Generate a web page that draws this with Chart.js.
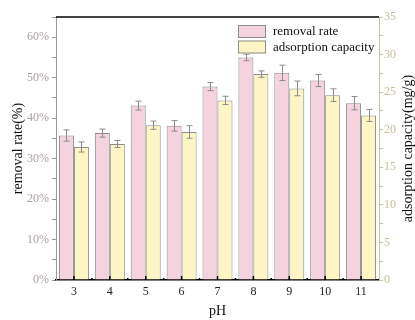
<!DOCTYPE html>
<html>
<head>
<meta charset="utf-8">
<script src="https://cdn.jsdelivr.net/npm/chart.js@4"></script>
<style>
  html, body { margin: 0; padding: 0; background: #fff; }
  #wrap { width: 415px; height: 320px; position: relative; }
</style>
</head>
<body>
<div id="wrap"><canvas id="chart"></canvas></div>
<script>
// ==============================
// Data
// ==============================

const pH = ["3", "4", "5", "6", "7", "8", "9", "10", "11"];

const removalRate = [35.7, 36.3, 43.1, 38.1, 47.8, 55.0, 51.2, 49.3, 43.7];
const removalErr = [1.4, 1.0, 1.1, 1.3, 1.0, 0.8, 1.9, 1.5, 1.65];

const adsorption = [17.7, 18.1, 20.6, 19.7, 23.9, 27.4, 25.5, 24.6, 21.9];
const adsorptionErr = [0.67, 0.47, 0.55, 0.84, 0.55, 0.42, 0.98, 0.84, 0.8];

const leftTicks = [0, 10, 20, 30, 40, 50, 60];
const rightTicks = [0, 5, 10, 15, 20, 25, 30, 35];

const serif = "'Liberation Serif', 'Times New Roman', serif";

// ==============================
// Error bars, legend, frame
// ==============================

const extrasPlugin = {
    id: "extras",
    afterDatasetsDraw(chart) {
        const ctx = chart.ctx;
        const area = chart.chartArea;

        // error bars
        chart.data.datasets.forEach((ds, i) => {
            const meta = chart.getDatasetMeta(i);
            const scale = chart.scales[ds.yAxisID];
            ctx.save();
            ctx.strokeStyle = "#8c8c8c";
            ctx.lineWidth = 1;
            meta.data.forEach((bar, j) => {
                const v = ds.data[j];
                const e = ds.errors[j];
                const yTop = scale.getPixelForValue(v + e);
                const yBot = scale.getPixelForValue(v - e);
                const x = Math.round(bar.x) + 0.5;
                ctx.beginPath();
                ctx.moveTo(x, yTop);
                ctx.lineTo(x, yBot);
                ctx.moveTo(x - 3, yTop);
                ctx.lineTo(x + 3, yTop);
                ctx.moveTo(x - 3, yBot);
                ctx.lineTo(x + 3, yBot);
                ctx.stroke();
            });
            ctx.restore();
        });

        // top frame line
        ctx.save();
        ctx.strokeStyle = "#000";
        ctx.lineWidth = 1.5;
        ctx.beginPath();
        ctx.moveTo(area.left, area.top);
        ctx.lineTo(area.right, area.top);
        ctx.stroke();

        // inward ticks on the x axis
        const xs = chart.scales.x;
        ctx.lineWidth = 1.5;
        pH.forEach((p, i) => {
            const x = xs.getPixelForValue(i);
            ctx.beginPath();
            ctx.moveTo(x, area.bottom);
            ctx.lineTo(x, area.bottom - 4);
            ctx.stroke();
            if (i < pH.length - 1) {
                const xm = xs.getPixelForValue(i + 0.5);
                ctx.beginPath();
                ctx.moveTo(xm, area.bottom);
                ctx.lineTo(xm, area.bottom - 2);
                ctx.stroke();
            }
        });
        ctx.restore();

        // legend
        ctx.save();
        ctx.font = "13px " + serif;
        ctx.textBaseline = "middle";
        chart.data.datasets.forEach((ds, i) => {
            const bx = 238;
            const by = 25 + i * 15.5;
            ctx.fillStyle = ds.backgroundColor;
            ctx.fillRect(bx, by, 28, 13);
            ctx.strokeStyle = "#8c8c8c";
            ctx.lineWidth = 1;
            ctx.strokeRect(bx + 0.5, by + 0.5, 27, 12);
            ctx.fillStyle = "#111";
            ctx.fillText(ds.label, bx + 35, by + 7);
        });
        ctx.restore();

        // right axis title, read bottom to top
        ctx.save();
        ctx.font = "14px " + serif;
        ctx.fillStyle = "#111";
        ctx.textAlign = "center";
        ctx.textBaseline = "middle";
        ctx.translate(408, (area.top + area.bottom) / 2);
        ctx.rotate(-Math.PI / 2);
        ctx.fillText("adsorption capacity(mg/g)", 0, 0);
        ctx.restore();
    }
};

// ==============================
// Chart
// ==============================

new Chart(document.getElementById("chart"), {
    type: "bar",
    data: {
        labels: pH,
        datasets: [
            {
                label: "removal rate",
                data: removalRate,
                errors: removalErr,
                yAxisID: "y",
                backgroundColor: "#f4d3df",
                borderColor: "#8c8c8c",
                borderWidth: 1
            },
            {
                label: "adsorption capacity",
                data: adsorption,
                errors: adsorptionErr,
                yAxisID: "y1",
                backgroundColor: "#fdf6c4",
                borderColor: "#8c8c8c",
                borderWidth: 1
            }
        ]
    },
    options: {
        responsive: true,
        maintainAspectRatio: false,
        animation: false,
        layout: { padding: { top: 17, left: 0, right: 0, bottom: 0 } },
        datasets: {
            bar: { categoryPercentage: 0.835, barPercentage: 1.0 }
        },
        plugins: {
            legend: { display: false },
            tooltip: { enabled: false }
        },
        scales: {
            x: {
                grid: { display: false, drawTicks: false },
                border: { color: "#000", width: 1.5 },
                ticks: {
                    color: "#222",
                    padding: 5,
                    font: { family: serif, size: 12 }
                },
                title: {
                    display: true,
                    text: "pH",
                    color: "#111",
                    padding: { top: 0, bottom: 0 },
                    font: { family: serif, size: 14 }
                },
                afterFit(scale) { scale.height = 40; }
            },
            y: {
                position: "left",
                min: 0,
                max: 65,
                afterBuildTicks(scale) {
                    const t = [];
                    for (let v = 0; v <= 65; v += 5) t.push({ value: v });
                    scale.ticks = t;
                },
                grid: {
                    drawOnChartArea: false,
                    tickLength: 4,
                    color: "#999"
                },
                border: { color: "#999", width: 1 },
                ticks: {
                    color: "#aa9ea5",
                    padding: 3,
                    font: { family: serif, size: 12 },
                    callback: (v) => leftTicks.includes(v) ? v + "%" : ""
                },
                title: {
                    display: true,
                    text: "removal rate(%)",
                    color: "#111",
                    padding: { top: 10, bottom: 0 },
                    font: { family: serif, size: 14 }
                },
                afterFit(scale) { scale.width = 56; }
            },
            y1: {
                position: "right",
                min: 0,
                max: 35,
                afterBuildTicks(scale) {
                    const t = [];
                    for (let v = 0; v <= 35; v += 2.5) t.push({ value: v });
                    scale.ticks = t;
                },
                grid: {
                    drawOnChartArea: false,
                    tickLength: 4,
                    color: "#c9c49c"
                },
                border: { color: "#c9c49c", width: 1 },
                ticks: {
                    color: "#c4bf9a",
                    padding: 1,
                    font: { family: serif, size: 12 },
                    callback: (v) => rightTicks.includes(v) ? String(v) : ""
                },
                afterFit(scale) { scale.width = 36; }
            }
        }
    },
    plugins: [extrasPlugin]
});
</script>
</body>
</html>
